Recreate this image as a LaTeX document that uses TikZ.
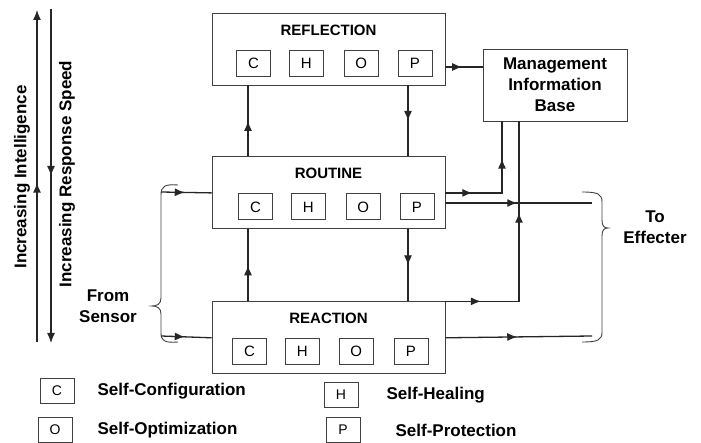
\documentclass[tikz,border=0pt]{standalone}
\usepackage{fontspec}
\setmainfont{Liberation Sans}
\usetikzlibrary{arrows.meta, positioning, calc, decorations.markings}

\begin{document}
\begin{tikzpicture}[
  x=1pt, y=-1pt,
  tier/.style={draw=black!75, line width=0.9pt, minimum width=233pt, minimum height=72pt, inner sep=0pt},
  tiertitle/.style={font=\fontsize{15}{18}\selectfont\bfseries, inner sep=0pt},
  letter/.style={draw=black!75, line width=0.8pt, minimum width=34pt, minimum height=26pt, inner sep=0pt, font=\fontsize{15}{15}\selectfont},
  txt/.style={font=\fontsize{17}{21}\selectfont\bfseries, align=center, inner sep=0pt},
  wire/.style={line width=1.3pt, black!85},
  midarrow/.style={postaction={decorate}, decoration={markings, mark=at position #1 with {\arrow{Latex[length=10pt,width=8pt]}}}},
  midarrow/.default=0.5,
  twoarrows/.style 2 args={postaction={decorate}, decoration={markings,
      mark=at position #1 with {\arrow{Latex[length=10pt,width=8pt]}},
      mark=at position #2 with {\arrow{Latex[length=10pt,width=8pt]}}}},
  brace/.style={draw=black!75, line width=0.9pt}
]
  \useasboundingbox (0,0) rectangle (701,443);

  % the three tiers
  \node[tier] (refl) at (328.5,49) {};
  \node[tier, below=71pt of refl] (rout) {};
  \node[tier, below=72pt of rout] (react) {};

  \node[tiertitle] at ($(refl.north)+(0,17.5)$) {REFLECTION};
  \node[tiertitle] at ($(rout.north)+(0,17)$) {ROUTINE};
  \node[tiertitle] at ($(react.north)+(0,17)$) {REACTION};

  \node[letter] (reflC) at ($(refl.west)+(42,14)$) {C};
  \node[letter, right=18pt of reflC] (reflH) {H};
  \node[letter, right=20pt of reflH] (reflO) {O};
  \node[letter, right=19pt of reflO] (reflP) {P};

  \node[letter] (routC) at ($(rout.west)+(44,14)$) {C};
  \node[letter, right=18pt of routC] (routH) {H};
  \node[letter, right=20pt of routH] (routO) {O};
  \node[letter, right=19pt of routO] (routP) {P};

  \node[letter] (reactC) at ($(react.west)+(38,14)$) {C};
  \node[letter, right=18pt of reactC] (reactH) {H};
  \node[letter, right=19pt of reactH] (reactO) {O};
  \node[letter, right=20pt of reactO] (reactP) {P};

  \node[draw=black!75, line width=0.9pt, minimum width=144pt, minimum height=72pt, txt] (mib) at (555,85) {Management\\Information\\Base};

  % side labels
  \node[txt, rotate=90] (intel) at (22,177) {Increasing Intelligence};
  \node[txt, rotate=90] (speed) at (67,174) {Increasing Response Speed};
  \node[txt] (sensor) at (108,306) {From\\Sensor};
  \node[txt] (effecter) at (655,227) {To\\Effecter};

  \coordinate (upx) at (248,0);
  \coordinate (dnx) at (408,0);
  \coordinate (mibin) at (502,0);
  \coordinate (mibout) at (519,0);
  \coordinate (effA) at (592,203);
  \coordinate (effB) at (592,336);
  \coordinate (sensA) at (161,192);
  \coordinate (sensB) at (161,336);
  \coordinate (intelA) at (37,342);
  \coordinate (intelB) at (37,10);
  \coordinate (speedA) at (51,9);
  \coordinate (speedB) at (51,343);

  % between the tiers
  \draw[wire, midarrow] (rout.north -| upx) -- (refl.south -| upx);
  \draw[wire, midarrow] (refl.south -| dnx) -- (rout.north -| dnx);
  \draw[wire, midarrow] (react.north -| upx) -- (rout.south -| upx);
  \draw[wire, midarrow] (rout.south -| dnx) -- (react.north -| dnx);

  % to the MIB and the effecter
  \draw[wire, midarrow=0.45] ([yshift=-18pt]refl.east) -- ([yshift=-18pt]refl.east -| mib.west);
  \draw[wire, twoarrows={0.21}{0.71}] (rout.east) -- (rout.east -| mibin) -- (mibin |- mib.south);
  \draw[wire, midarrow=0.49] (rout.east |- effA) -- (effA);
  \draw[wire, twoarrows={0.14}{0.64}] (react.north east) -- (react.north east -| mibout) -- (mibout |- mib.south);
  \draw[wire, midarrow=0.49] (react.east) -- (effB);

  % from the sensor
  \draw[wire, midarrow=0.47] (sensA) -- (rout.west);
  \draw[wire, midarrow=0.47] (sensB) -- (react.west);

  % left scales
  \draw[wire, midarrow=0.48, -{Latex[length=10pt,width=8pt]}] (intelA) -- (intelB);
  \draw[wire, midarrow=0.5, -{Latex[length=10pt,width=8pt]}] (speedA) -- (speedB);

  % braces
  \draw[brace] (178,185) .. controls (165,184) and (161,186) .. (161,195) -- (161,298)
    .. controls (161,304) and (157,306) .. (152,306)
    .. controls (157,306) and (161,308) .. (161,314) -- (161,333)
    .. controls (161,341) and (165,343) .. (178,342);
  \draw[brace] (582,192) .. controls (598,192) and (602,194) .. (602,202) -- (602,220)
    .. controls (602,226) and (604,228) .. (608,228)
    .. controls (604,228) and (602,230) .. (602,236) -- (602,332)
    .. controls (602,340) and (598,342) .. (582,342);

  % legend
  \node[letter, minimum height=25pt, font=\fontsize{14}{14}\selectfont] (keyC) at (57,391) {C};
  \node[txt, right=23pt of keyC] {Self-Configuration};
  \node[letter, minimum height=25pt, font=\fontsize{14}{14}\selectfont] (keyH) at (341,395) {H};
  \node[txt, right=28pt of keyH] {Self-Healing};
  \node[letter, minimum height=25pt, font=\fontsize{14}{14}\selectfont] (keyO) at (55,430) {O};
  \node[txt, right=25pt of keyO] {Self-Optimization};
  \node[letter, minimum height=25pt, font=\fontsize{14}{14}\selectfont] (keyP) at (343,430) {P};
  \node[txt, right=35pt of keyP] {Self-Protection};
\end{tikzpicture}
\end{document}
